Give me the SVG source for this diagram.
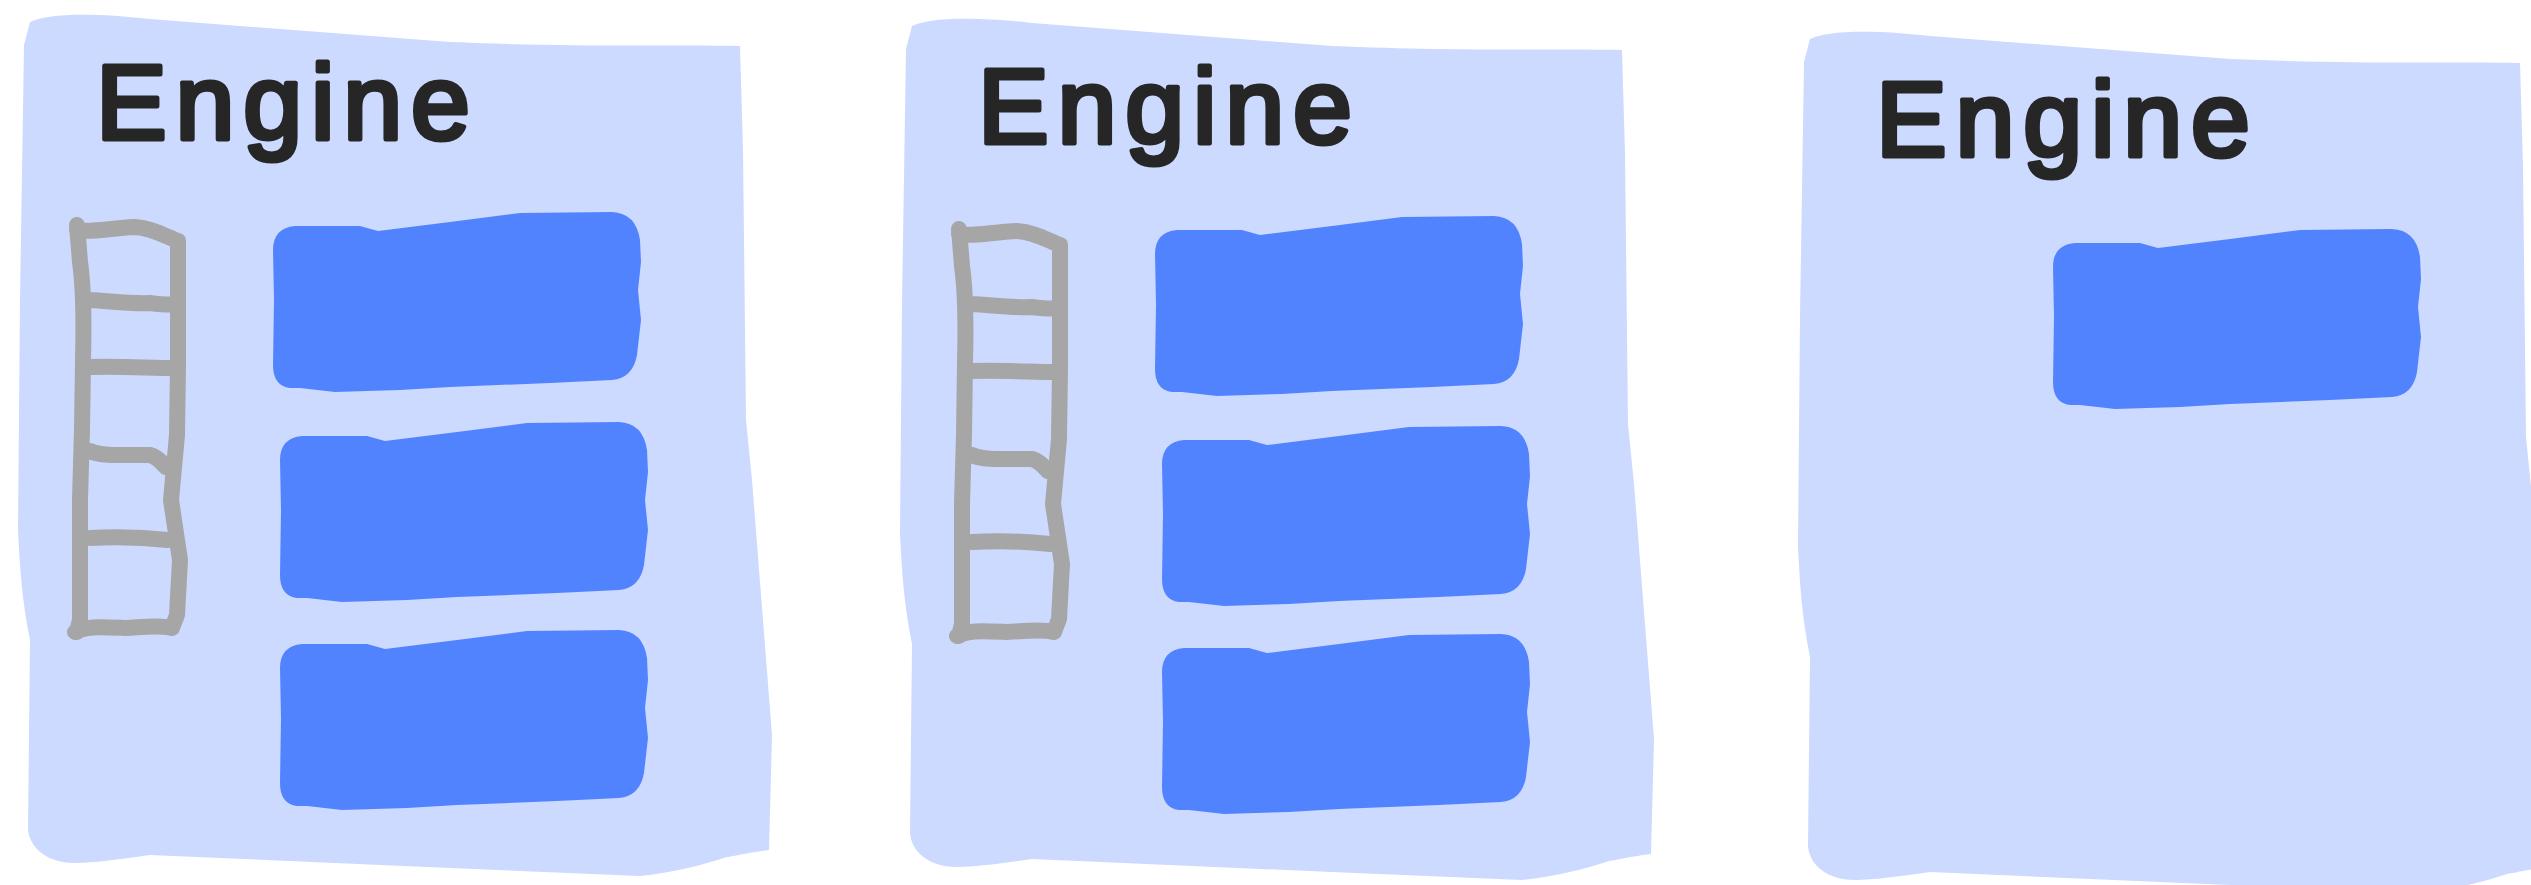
<svg xmlns="http://www.w3.org/2000/svg" width="2531" height="885" viewBox="0 0 2531 885">
<style>
.panel{fill:#cddaff}
.box{fill:#5283ff}
.ladder{fill:none;stroke:#a6a6a6;stroke-width:16px;stroke-linecap:round;stroke-linejoin:round}
.title{font-family:"Liberation Sans",Arial,sans-serif;font-size:106px;fill:#262626;stroke:#262626;stroke-width:5;stroke-linejoin:round;stroke-linecap:round}
</style>
<defs>
<path id="panelShape" d="M30,22 C45,14 90,12 150,19 L450,42 C600,48 680,44 740,46 L743,150 L746,420 L752,480 L772,735 L769,850 C745,853 735,856 727,857 C700,866 670,873 640,876 L450,868 L150,855 C100,862 70,866 55,860 C40,855 30,845 28,830 L30,640 C22,600 20,570 18,530 L20,300 L24,45 Z"/>
<path id="boxShape" d="M295,226 L360,226 L378,231 L450,222 L520,213 L612,212 Q636,213 640,240 L641,262 L638,290 L641,320 L637,355 Q633,378 612,380 L550,383 L450,387 L400,390 L335,392 L300,388 L290,388 Q273,386 273,365 L274,300 L273,250 Q273,228 295,226 Z"/>
</defs>
<g id="connectors"/>
<g id="engine-1">
<use href="#panelShape" class="panel"/>
<text class="title" x="96" y="139" textLength="374" lengthAdjust="spacing">Engine</text>
<path class="ladder" d="M77,225 L80,262 C84,290 84,320 83,360 L82,430 L80,500 L80,620 L77,632 M77,230 C90,233 110,228 135,227 C152,228 165,236 178,241 L178,300 L178,365 L177,435 L171,500 L180,560 L177,615 L172,628 M90,300 C110,301 130,304 150,303 C165,305 172,305 178,304 M90,367 C120,366 150,368 176,368 M90,451 C100,456 120,455 150,455 C160,458 164,466 166,467 M90,538 C110,537 140,537 168,540 M75,632 C85,626 100,627 125,628 C145,627 160,625 172,628"/>
<use href="#boxShape" class="box"/>
<use href="#boxShape" class="box" transform="translate(7,210)"/>
<use href="#boxShape" class="box" transform="translate(7,418)"/>
</g>
<g id="engine-2" transform="translate(882,4)">
<use href="#panelShape" class="panel"/>
<text class="title" x="96" y="139" textLength="374" lengthAdjust="spacing">Engine</text>
<path class="ladder" d="M77,225 L80,262 C84,290 84,320 83,360 L82,430 L80,500 L80,620 L77,632 M77,230 C90,233 110,228 135,227 C152,228 165,236 178,241 L178,300 L178,365 L177,435 L171,500 L180,560 L177,615 L172,628 M90,300 C110,301 130,304 150,303 C165,305 172,305 178,304 M90,367 C120,366 150,368 176,368 M90,451 C100,456 120,455 150,455 C160,458 164,466 166,467 M90,538 C110,537 140,537 168,540 M75,632 C85,626 100,627 125,628 C145,627 160,625 172,628"/>
<use href="#boxShape" class="box"/>
<use href="#boxShape" class="box" transform="translate(7,210)"/>
<use href="#boxShape" class="box" transform="translate(7,418)"/>
</g>
<g id="engine-3" transform="translate(1780,17)">
<use href="#panelShape" class="panel"/>
<text class="title" x="96" y="139" textLength="374" lengthAdjust="spacing">Engine</text>
<use href="#boxShape" class="box"/>
</g>
</svg>
